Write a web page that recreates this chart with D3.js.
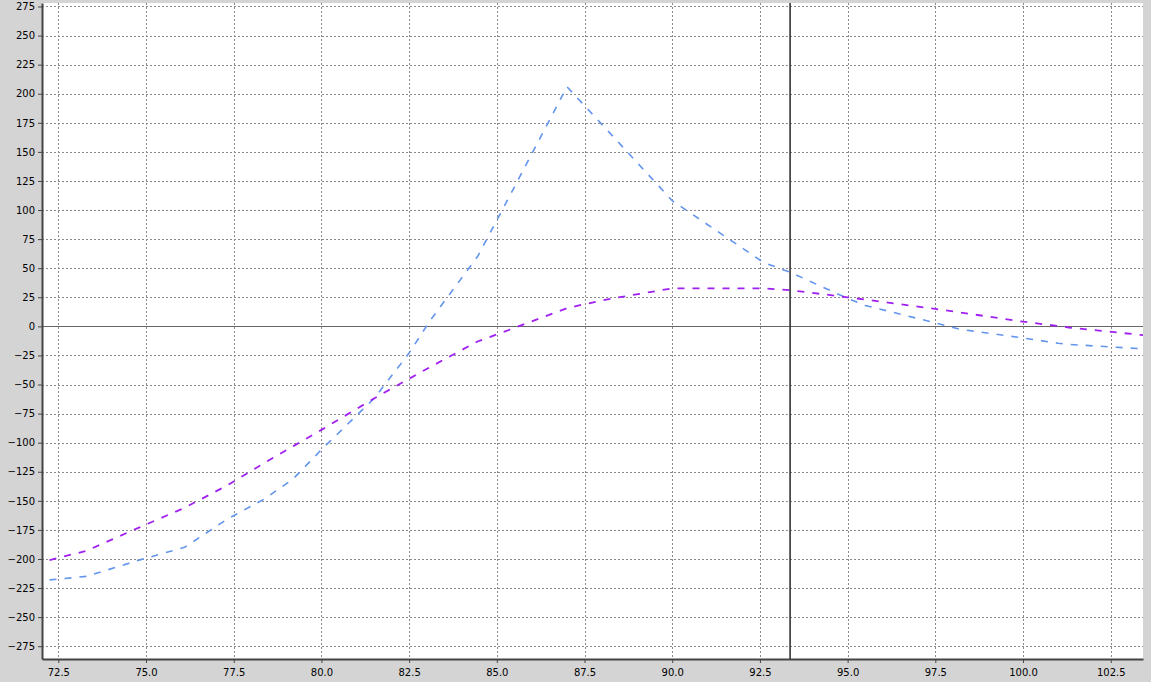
<!DOCTYPE html>
<html>
<head>
<meta charset="utf-8">
<script src="https://cdn.jsdelivr.net/npm/d3@7"></script>
<style>
  body { margin: 0; background: #d4d4d4; }
  .tick text { font-family: "DejaVu Sans", sans-serif; font-size: 10px; fill: #000; }
</style>
</head>
<body>
<div id="chart"></div>
<script>
// underlying price values (x)
var priceX = [72.25, 73.3, 74.8, 76.1, 77.3, 78.4, 79.2, 80.0, 81.5, 82.5, 83.1, 84.45, 85.4,
    87.0, 87.4, 88.2, 90.0, 92.6, 93.4, 95.0, 95.5, 97.5, 98.2, 100.0, 101.0, 101.3, 103.5];

// blue dashed series
var blueY = [-218, -215, -201, -190, -166, -148, -131, -106, -62, -23, 5, 60, 114,
    206, 193, 167, 108, 55, 46, 24, 18, 3, -2.5, -10, -14.5, -15.5, -19.5];

// purple dashed series
var purpleY = [-201, -193, -173, -156, -137, -117, -103, -89, -62, -45, -35, -13, -2.5,
    15.6, 18.4, 23.5, 32.7, 32.7, 31, 25, 23, 15, 12, 4, 0.3, -1, -7.8];

// vertical marker
var markerX = 93.36;

var xTicks = [72.5, 75, 77.5, 80, 82.5, 85, 87.5, 90, 92.5, 95, 97.5, 100, 102.5];
var yTicks = d3.range(-275, 276, 25);

var svgWidth = 1151;
var svgHeight = 682;
var margin = { top: 3, right: 8, bottom: 23, left: 42 };
var width = svgWidth - margin.left - margin.right;
var height = svgHeight - margin.top - margin.bottom;

var svg = d3.select("#chart").append("svg")
    .attr("width", svgWidth)
    .attr("height", svgHeight);

var g = svg.append("g")
    .attr("transform", `translate(${margin.left}, ${margin.top})`);

var x = d3.scaleLinear().domain([72.035, 103.42]).range([0, width]);
var y = d3.scaleLinear().domain([-286, 278]).range([height, 0]);

g.append("rect").attr("width", width).attr("height", height).attr("fill", "#fff");

g.append("clipPath").attr("id", "clip")
  .append("rect").attr("width", width).attr("height", height);

// grid
g.append("g").selectAll("line")
    .data(xTicks)
    .enter().append("line")
    .attr("x1", d => Math.round(x(d)) + 0.5).attr("x2", d => Math.round(x(d)) + 0.5)
    .attr("y1", 0).attr("y2", height)
    .attr("stroke", "#8a8a8a").attr("stroke-dasharray", "2,2");

g.append("g").selectAll("line")
    .data(yTicks.filter(d => d !== 0))
    .enter().append("line")
    .attr("y1", d => Math.round(y(d)) + 0.5).attr("y2", d => Math.round(y(d)) + 0.5)
    .attr("x1", 0).attr("x2", width)
    .attr("stroke", "#8a8a8a").attr("stroke-dasharray", "2,2");

// zero line
g.append("line")
    .attr("x1", 0).attr("x2", width)
    .attr("y1", Math.round(y(0)) + 0.5).attr("y2", Math.round(y(0)) + 0.5)
    .attr("stroke", "#666");

var line = d3.line()
    .x((d, i) => x(priceX[i]))
    .y(d => y(d));

var lines = g.append("g").attr("clip-path", "url(#clip)");

lines.append("path")
    .datum(blueY)
    .attr("d", line)
    .attr("fill", "none")
    .attr("stroke", "#6495ed")
    .attr("stroke-width", 1.6)
    .attr("stroke-dasharray", "7,8");

lines.append("path")
    .datum(purpleY)
    .attr("d", line)
    .attr("fill", "none")
    .attr("stroke", "#a020f0")
    .attr("stroke-width", 1.8)
    .attr("stroke-dasharray", "7,8");

// vertical marker line
g.append("line")
    .attr("x1", x(markerX)).attr("x2", x(markerX))
    .attr("y1", 0).attr("y2", height)
    .attr("stroke", "#333")
    .attr("stroke-width", 1.6);

// axes
var xAxis = g.append("g")
    .attr("transform", `translate(0, ${height})`)
    .call(d3.axisBottom(x).tickValues(xTicks).tickFormat(d3.format(".1f")).tickSize(4).tickSizeOuter(0));

var yAxis = g.append("g")
    .call(d3.axisLeft(y).tickValues(yTicks).tickFormat(d3.format("d")).tickSize(4).tickSizeOuter(0));

xAxis.select(".domain").attr("stroke", "#444").attr("stroke-width", 2);
yAxis.select(".domain").attr("stroke", "#444").attr("stroke-width", 2);
xAxis.selectAll(".tick line").attr("stroke", "#444");
yAxis.selectAll(".tick line").attr("stroke", "#444");
xAxis.selectAll(".tick text").attr("dy", "0.95em");
yAxis.selectAll(".tick text").attr("x", -7);
</script>
</body>
</html>
